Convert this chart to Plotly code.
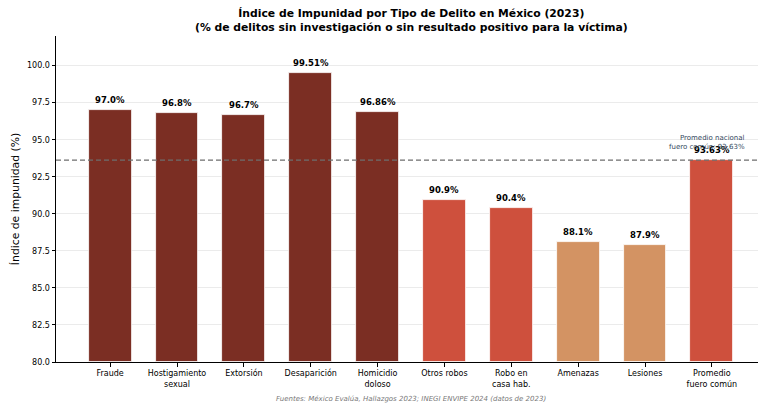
import plotly.graph_objects as go

categories = ["Fraude", "Hostigamiento<br>sexual", "Extorsión", "Desaparición",
              "Homicidio<br>doloso", "Otros robos", "Robo en<br>casa hab.",
              "Amenazas", "Lesiones", "Promedio<br>fuero común"]
values = [97.0, 96.8, 96.7, 99.51, 96.86, 90.9, 90.4, 88.1, 87.9, 93.63]
value_labels = ["97.0%", "96.8%", "96.7%", "99.51%", "96.86%",
                "90.9%", "90.4%", "88.1%", "87.9%", "93.63%"]
groups = ["alto", "alto", "alto", "alto", "alto",
          "medio", "medio", "bajo", "bajo", "medio"]
national_avg = 93.63
y_ticks = [80.0, 82.5, 85.0, 87.5, 90.0, 92.5, 95.0, 97.5, 100.0]

palette = {"alto": "#7B2E23", "medio": "#CE503D", "bajo": "#D39363"}
colors = [palette[g] for g in groups]
xs = list(range(len(categories)))

FONT = "DejaVu Sans"

fig = go.Figure()
fig.add_trace(go.Bar(
    x=xs, y=[v - 80 for v in values], base=80, width=0.64,
    marker=dict(color=colors, line=dict(color="white", width=0.8)),
    hoverinfo="skip", showlegend=False,
))

for x, v, lab in zip(xs, values, value_labels):
    fig.add_annotation(x=x, y=v, text=f"<b>{lab}</b>", showarrow=False,
                       yanchor="bottom", yshift=3,
                       font=dict(family=FONT, size=8.5, color="black"))

fig.add_shape(type="line", xref="paper", x0=0, x1=1, yref="y",
              y0=national_avg, y1=national_avg,
              line=dict(color="#6e6e6e", width=1.3, dash="5px,3px"))

fig.add_annotation(x=9.52, y=national_avg + 0.45, xanchor="right", yanchor="bottom",
                   text="Promedio nacional<br>fuero común: 93.63%", align="right",
                   showarrow=False,
                   font=dict(family=FONT, size=7, color="#34495e"))

fig.add_annotation(x=4.5, xref="x", y=-0.132, yref="paper", yanchor="bottom",
                   text="<i>Fuentes: México Evalúa, Hallazgos 2023; INEGI ENVIPE 2024 (datos de 2023)</i>",
                   showarrow=False, font=dict(family=FONT, size=7, color="#777777"))

fig.add_annotation(x=4.5, xref="x", y=1.047, yref="paper", yanchor="middle",
                   text="<b>Índice de Impunidad por Tipo de Delito en México (2023)<br>"
                        "(% de delitos sin investigación o sin resultado positivo para la víctima)</b>",
                   showarrow=False, align="center",
                   font=dict(family=FONT, size=10.8, color="black"))

fig.update_layout(
    width=759, height=405, autosize=False,
    margin=dict(l=56, r=1, t=36, b=43),
    paper_bgcolor="white", plot_bgcolor="white",
    font=dict(family=FONT, size=8, color="black"),
    bargap=0,
)

fig.update_xaxes(range=[-0.81, 9.69], tickmode="array", tickvals=xs, ticktext=categories,
                 showline=True, linecolor="black", linewidth=1,
                 ticks="outside", ticklen=3.5, tickcolor="black",
                 showgrid=False, zeroline=False,
                 tickfont=dict(family=FONT, size=8, color="black"))
fig.update_yaxes(range=[80, 102], tickmode="array", tickvals=y_ticks,
                 ticktext=[f"{t:.1f}" for t in y_ticks],
                 showline=True, linecolor="black", linewidth=1,
                 ticks="outside", ticklen=3.5, tickcolor="black",
                 showgrid=True, gridcolor="#ebebeb", gridwidth=1, zeroline=False,
                 tickfont=dict(family=FONT, size=8, color="black"),
                 title=dict(text="Índice de impunidad (%)", standoff=5,
                            font=dict(family=FONT, size=10.8, color="black")))

fig.write_html("out.html", config={"displayModeBar": False},
               post_script="document.body.style.margin='0';document.body.style.overflow='hidden';")
